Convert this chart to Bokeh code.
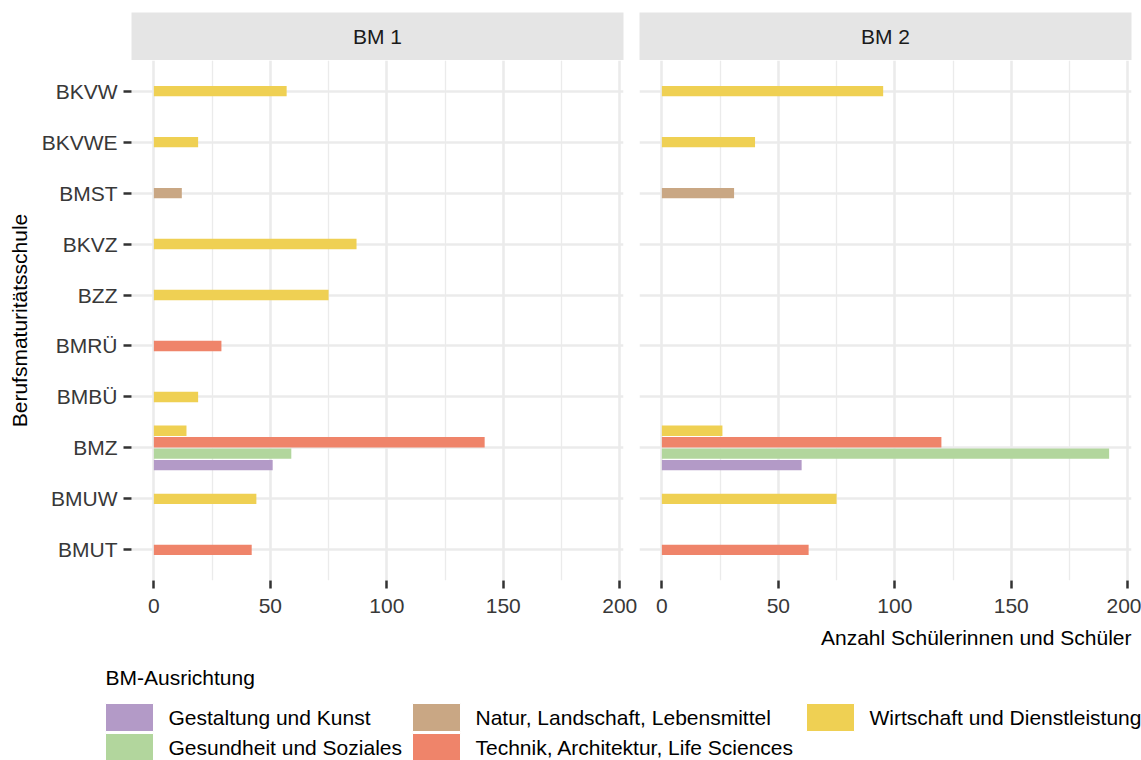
from bokeh.plotting import figure
from bokeh.layouts import column, row
from bokeh.models import Range1d, FixedTicker, ColumnDataSource, Grid
from bokeh.core.properties import value
from bokeh.embed import file_html
from bokeh.resources import INLINE

# ---------------- data ----------------
schools = ["BKVW", "BKVWE", "BMST", "BKVZ", "BZZ", "BMRÜ", "BMBÜ", "BMZ", "BMUW", "BMUT"]
panels = ["BM 1", "BM 2"]
series = ["Gestaltung und Kunst", "Gesundheit und Soziales", "Natur, Landschaft, Lebensmittel",
          "Technik, Architektur, Life Sciences", "Wirtschaft und Dienstleistung"]
colors = ["#B39AC7", "#B2D69D", "#C9A784", "#EF846A", "#EFD053"]

gestaltung_bm1 = [0, 0, 0, 0, 0, 0, 0, 51, 0, 0]
gesundheit_bm1 = [0, 0, 0, 0, 0, 0, 0, 59, 0, 0]
natur_bm1 = [0, 0, 12, 0, 0, 0, 0, 0, 0, 0]
technik_bm1 = [0, 0, 0, 0, 0, 29, 0, 142, 0, 42]
wirtschaft_bm1 = [57, 19, 0, 87, 75, 0, 19, 14, 44, 0]

gestaltung_bm2 = [0, 0, 0, 0, 0, 0, 0, 60, 0, 0]
gesundheit_bm2 = [0, 0, 0, 0, 0, 0, 0, 192, 0, 0]
natur_bm2 = [0, 0, 31, 0, 0, 0, 0, 0, 0, 0]
technik_bm2 = [0, 0, 0, 0, 0, 0, 0, 120, 0, 63]
wirtschaft_bm2 = [95, 40, 0, 0, 0, 0, 0, 26, 75, 0]

x_ticks = [0, 50, 100, 150, 200]
x_minor = [25, 75, 125, 175]
x_title = "Anzahl Schülerinnen und Schüler"
y_title = "Berufsmaturitätsschule"
legend_title = "BM-Ausrichtung"

panel_values = {
    "BM 1": [gestaltung_bm1, gesundheit_bm1, natur_bm1, technik_bm1, wirtschaft_bm1],
    "BM 2": [gestaltung_bm2, gesundheit_bm2, natur_bm2, technik_bm2, wirtschaft_bm2],
}

# ---------------- style ----------------
FONT_NAME = "Liberation Sans"
FONT = value(FONT_NAME)
FS = "21px"
GRID = "#EBEBEB"
TICK_TXT = "#383838"

n = len(schools)
ypos = {s: n - i for i, s in enumerate(schools)}
max_groups = max(sum(1 for k in range(len(series)) if vals[k][i] > 0)
                 for vals in panel_values.values() for i in range(n))
slot = 0.9 / max_groups
bar_h = slot * 0.9
vmax = max(max(v) for vals in panel_values.values() for v in vals)
xlo, xhi = -0.05 * vmax, 1.05 * vmax

W1, W2 = 637, 504
BL = [131, 2]
BR = [14, 10]


def no_grid(p):
    for g in p.grid:
        g.visible = False


def strip_fig(idx, label):
    p = figure(width=[W1, W2][idx], height=60, x_range=Range1d(0, 1), y_range=Range1d(0, 1),
               output_backend="svg", toolbar_location=None,
               x_axis_location=None, y_axis_location=None,
               min_border_left=BL[idx], min_border_right=BR[idx], min_border_top=12, min_border_bottom=0)
    no_grid(p)
    p.background_fill_color = "#E5E5E5"
    p.border_fill_color = "white"
    p.outline_line_color = None
    p.text(x=[0.5], y=[0.5], text=[label], text_align="center", text_baseline="middle",
           text_font=FONT, text_font_size=FS, text_color="#1A1A1A")
    return p


def panel_fig(idx, name):
    first = idx == 0
    p = figure(width=[W1, W2][idx], height=562, x_range=Range1d(xlo, xhi), y_range=Range1d(0.4, n + 0.6),
               output_backend="svg", toolbar_location=None,
               y_axis_location="left" if first else None,
               min_border_left=BL[idx], min_border_right=BR[idx], min_border_top=0, min_border_bottom=42)
    p.outline_line_color = None
    p.background_fill_color = "white"
    p.border_fill_color = "white"

    ax = p.xaxis[0]
    ax.ticker = FixedTicker(ticks=x_ticks, minor_ticks=x_minor)
    ax.axis_line_color = None
    ax.major_tick_line_color = "#333333"
    ax.major_tick_line_width = 2.5
    ax.major_tick_out = 8
    ax.major_tick_in = 0
    ax.minor_tick_line_color = None
    ax.major_label_text_font = FONT_NAME
    ax.major_label_text_font_size = FS
    ax.major_label_text_color = TICK_TXT
    ax.major_label_standoff = 10
    p.xgrid.grid_line_color = GRID
    p.xgrid.grid_line_width = 2.6
    p.xgrid.minor_grid_line_color = GRID
    p.xgrid.minor_grid_line_width = 1.3

    yt = FixedTicker(ticks=[ypos[s] for s in schools])
    if first:
        ay = p.yaxis[0]
        ay.ticker = yt
        ay.major_label_overrides = {ypos[s]: s for s in schools}
        ay.axis_line_color = None
        ay.major_tick_line_color = "#333333"
        ay.major_tick_line_width = 2.5
        ay.major_tick_out = 8
        ay.major_tick_in = 0
        ay.minor_tick_line_color = None
        ay.major_label_text_font = FONT_NAME
        ay.major_label_text_font_size = FS
        ay.major_label_text_color = TICK_TXT
        ay.major_label_standoff = 6
        ay.axis_label = y_title
        ay.axis_label_text_font = FONT_NAME
        ay.axis_label_text_font_size = FS
        ay.axis_label_text_font_style = "normal"
        ay.axis_label_text_color = "black"
        ay.axis_label_standoff = 8
        p.ygrid.grid_line_color = GRID
        p.ygrid.grid_line_width = 2.6
    else:
        for g in p.ygrid:
            g.visible = False
        g = Grid(dimension=1, ticker=yt, grid_line_color=GRID, grid_line_width=2.6)
        p.add_layout(g)

    vals = panel_values[name]
    cols = {k: {"y": [], "v": []} for k in range(len(series))}
    for i, s in enumerate(schools):
        present = [k for k in range(len(series)) if vals[k][i] > 0]
        for j, k in enumerate(present):
            off = (j - (len(present) - 1) / 2) * slot
            cols[k]["y"].append(ypos[s] + off)
            cols[k]["v"].append(vals[k][i])
    for k in range(len(series)):
        src = ColumnDataSource(dict(y=cols[k]["y"], v=cols[k]["v"]))
        p.hbar(y="y", left=0, right="v", height=bar_h, source=src,
               fill_color=colors[k], line_color=None)
    return p


strips = [strip_fig(i, name) for i, name in enumerate(panels)]
figs = [panel_fig(i, name) for i, name in enumerate(panels)]

# ---------------- bottom: x title + legend ----------------
TOTAL_W = W1 + W2
leg = figure(width=TOTAL_W, height=138, x_range=Range1d(0, TOTAL_W), y_range=Range1d(760, 622),
             output_backend="svg", toolbar_location=None, x_axis_location=None, y_axis_location=None,
             min_border_left=0, min_border_right=0, min_border_top=0, min_border_bottom=0)
no_grid(leg)
leg.outline_line_color = None
leg.background_fill_color = "white"
leg.border_fill_color = "white"

leg.text(x=[1131], y=[637], text=[x_title], text_align="right", text_baseline="middle",
         text_font=FONT, text_font_size=FS, text_color="black")
leg.text(x=[105], y=[677], text=[legend_title], text_align="left", text_baseline="middle",
         text_font=FONT, text_font_size=FS, text_color="black")

col_x = [105, 412, 806]
row_y = [717, 747]
key_w, key_h = 48, 28
kx, ky, tx = [], [], []
for k in range(len(series)):
    c, r = divmod(k, 2)
    kx.append(col_x[c] + key_w / 2)
    ky.append(row_y[r])
    tx.append(col_x[c] + key_w + 15)
leg.rect(x=kx, y=ky, width=key_w, height=key_h, fill_color=colors, line_color="white", line_width=1)
leg.text(x=tx, y=ky, text=series, text_align="left", text_baseline="middle",
         text_font=FONT, text_font_size=FS, text_color="black")

layout = column(row(*strips), row(*figs), leg)
open("out.html", "w").write(file_html(layout, INLINE))
